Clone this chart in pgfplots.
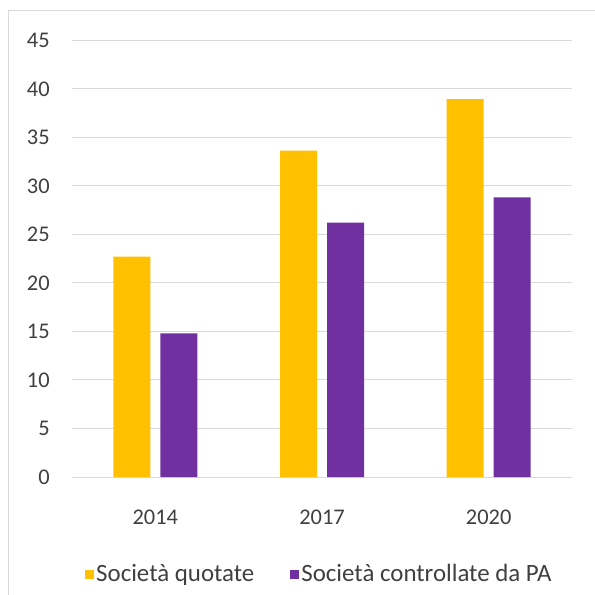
\documentclass[border=0pt]{standalone}
\usepackage{pgfplots}
\pgfplotsset{compat=1.18}
\usepackage{fontspec}
\setmainfont{Carlito}
\definecolor{cyellow}{HTML}{FFC000}
\definecolor{cpurple}{HTML}{7030A0}
\definecolor{txtgray}{HTML}{404040}
\definecolor{gridgray}{HTML}{D9D9D9}
\begin{document}
\begin{tikzpicture}[x=1bp,y=1bp]
\path[use as bounding box] (0,0) rectangle (595,-595);
\draw[gridgray, line width=1bp] (8.5,-595) -- (8.5,-10.5) -- (595,-10.5);
\begin{axis}[
  at={(72bp,-477bp)}, anchor=south west,
  scale only axis, width=500bp, height=437bp,
  xmin=-0.5, xmax=2.5, ymin=0, ymax=45,
  ytick={0,5,...,45},
  xtick={0,1,2}, xticklabels={2014,2017,2020},
  ybar=10bp, bar width=37bp,
  axis lines=left, axis line style={draw=none}, tick style={draw=none},
  ymajorgrids, grid style={gridgray, line width=1bp},
  /pgf/number format/assume math mode=true,
  yticklabel style={font=\fontsize{22.5}{24}\selectfont, text=txtgray, anchor=base east, inner sep=0pt, xshift=-20bp, yshift=-7.5bp},
  xticklabel style={font=\fontsize{22.5}{24}\selectfont, text=txtgray, anchor=base, inner sep=0pt, yshift=-45bp},
  legend columns=2,
  legend style={draw=none, fill=none, at={(0.026,-0.222)}, anchor=west, inner sep=0pt,
    font=\fontsize{25}{27}\selectfont, text=txtgray,
    /tikz/every even column/.append style={column sep=34bp},
    nodes={inner sep=2bp}},
  legend image code/.code={\fill[#1, draw=none] (0bp,-4.5bp) rectangle (9bp,4.5bp);},
]
\addplot[fill=cyellow, draw=none] coordinates {(0,22.7) (1,33.6) (2,38.9)};
\addplot[fill=cpurple, draw=none] coordinates {(0,14.8) (1,26.2) (2,28.8)};
\legend{Società quotate, Società controllate da PA}
\end{axis}
\end{tikzpicture}
\end{document}
